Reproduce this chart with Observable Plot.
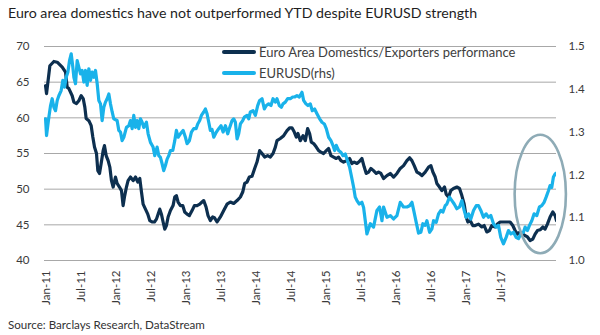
<!DOCTYPE html>
<html><head><meta charset="utf-8">
<script src="https://cdn.jsdelivr.net/npm/d3@7"></script>
<script src="https://cdn.jsdelivr.net/npm/@observablehq/plot@0.6"></script>
<style>
body{margin:0;background:#fff;font-family:Lato,"Open Sans",sans-serif;}
#wrap{position:relative;width:600px;height:335px;overflow:hidden;}
#chart{position:absolute;left:0;top:0;}
#title{position:absolute;left:8px;top:4px;font-size:14.2px;color:#1e1e1e;white-space:nowrap;line-height:18px;}
#source{position:absolute;left:8px;top:318px;font-size:11.6px;color:#333;white-space:nowrap;line-height:14px;}
.leg{position:absolute;left:222px;height:16px;font-size:13px;color:#404040;display:flex;align-items:center;white-space:nowrap;}
.leg .sw{display:inline-block;width:34px;height:3.5px;margin-right:3px;border-radius:2px;}
</style></head>
<body>
<div id="wrap">
  <div id="chart"></div>
  <div id="title">Euro area domestics have not outperformed YTD despite EURUSD strength</div>
  <div class="leg" style="top:44px"><span class="sw" style="background:#0d2f4f"></span>Euro Area Domestics/Exporters performance</div>
  <div class="leg" style="top:65px"><span class="sw" style="background:#19b2ea"></span>EURUSD(rhs)</div>
  <div id="source">Source: Barclays Research, DataStream</div>
</div>
<script>
// x values: months since Jan 2011 (as positioned against the chart's axis labels)
const darkMonths = [-0.17,0,0.57,1.26,1.83,2.69,3.26,3.54,3.83,4.4,
4.69,5.14,5.54,5.94,6.29,6.57,6.8,7.26,7.66,7.94,
8.23,8.57,8.8,9.09,9.37,9.71,9.94,10.23,10.57,10.86,
11.14,11.43,11.83,12.11,12.51,12.86,13.14,13.37,13.71,13.99,
14.4,14.86,15.26,15.66,16,16.29,16.57,16.97,17.37,17.71,
18.11,18.51,18.86,19.14,19.43,19.71,20,20.29,20.57,20.86,
21.26,21.71,22,22.28,22.57,22.97,23.37,23.71,24.11,24.51,
24.97,25.37,25.83,26.29,26.68,26.97,27.37,27.71,28.11,28.51,
28.8,29.26,29.83,30.4,30.97,31.54,32.11,32.69,33.26,33.66,
34,34.4,34.8,35.26,35.71,36.11,36.57,36.97,37.43,37.94,
38.4,38.86,39.26,39.54,40.11,40.69,41.26,41.71,42.11,42.51,
42.86,43.14,43.54,44,44.4,44.8,45.14,45.43,45.83,46.29,
46.69,47.08,47.54,48,48.4,48.8,49.26,49.71,50.11,50.51,
50.97,51.54,52,52.4,52.8,53.26,53.71,54.11,54.51,54.86,
55.26,55.66,56.11,56.57,56.97,57.37,57.83,58.4,58.97,59.55,
60.12,60.69,61.26,61.83,62.29,62.69,63.09,63.55,64,64.4,
64.97,65.55,65.95,66.29,66.69,66.97,67.43,67.83,68.29,68.57,
68.97,69.37,69.83,70.4,70.86,71.26,71.66,72,72.29,72.69,
73.14,73.54,74.12,74.69,75.09,75.54,76,76.4,76.97,77.37,
77.83,78.4,78.97,79.54,80,80.4,80.8,81.26,81.72,82.12,
82.52,82.97,83.43,83.83,84.23,84.69,85.15,85.54,85.94,86.4,
86.86,87.26,87.5];
const darkValues = [64.5,63.4,67.3,67.9,67.8,67.1,66.4,64.3,64.1,63.1,
62.2,62.0,62.4,63.1,62.7,61.5,59.9,59.6,58.9,57.3,
55.9,55.0,52.6,52.2,53.6,55.4,56.1,54.7,54.0,53.1,
51.2,50.3,51.7,50.8,50.3,49.8,47.7,48.9,50.3,51.2,
51.7,51.2,51.7,51.0,51.5,49.6,47.9,47.2,46.5,45.6,
45.4,45.4,45.8,46.5,47.2,46.5,45.4,44.4,44.9,46.1,
47.0,47.7,48.9,49.1,48.2,47.7,47.7,46.8,46.5,46.3,
47.0,47.7,47.7,47.9,48.2,48.4,47.5,46.3,45.6,46.1,
46.0,45.4,46.1,47.0,47.9,48.2,48.0,48.4,48.9,49.6,
50.8,51.0,51.7,51.8,52.9,53.8,55.4,55.0,54.5,54.7,
54.5,55.0,55.9,56.8,57.1,57.5,58.2,58.6,58.6,58.0,
57.3,57.8,56.8,57.5,56.8,58.5,57.8,56.6,56.4,55.9,
55.4,55.2,55.0,55.4,55.7,54.7,54.5,54.3,54.5,54.0,
53.8,54.0,54.3,53.6,53.8,53.6,53.9,54.3,53.1,52.2,
52.4,52.9,52.6,52.2,52.4,52.2,51.5,51.9,52.2,51.7,
52.2,52.9,53.3,54.0,54.4,54.0,53.3,52.4,52.2,51.9,
52.4,53.1,53.3,52.4,51.7,50.8,50.3,49.8,50.3,49.3,
48.9,49.8,50.1,50.3,50.1,49.1,47.9,46.1,45.4,45.6,
44.9,44.9,45.1,44.7,44.9,44.0,44.2,44.9,44.7,45.1,
45.4,45.4,45.4,45.4,44.9,44.2,43.7,44.0,43.7,43.5,
43.3,42.8,43.0,43.7,44.2,44.3,44.7,44.4,45.1,46.1,
46.8,46.3,45.6];

const fxMonths = [-0.17,0,0.4,0.69,0.97,1.26,1.54,1.83,2.11,2.51,
2.8,3.09,3.37,3.66,3.94,4.23,4.51,4.69,4.97,5.26,
5.54,5.83,6.11,6.4,6.69,6.97,7.26,7.54,7.83,8.11,
8.4,8.69,8.97,9.26,9.54,9.83,10.11,10.4,10.69,10.97,
11.26,11.54,12.11,12.4,12.69,12.97,13.26,13.71,14.11,14.4,
14.69,14.97,15.26,15.54,15.83,16.11,16.4,16.69,17.14,17.43,
17.83,18.28,18.57,18.97,19.26,19.54,19.83,20.11,20.4,20.69,
20.97,21.26,21.66,22,22.28,22.57,22.97,23.43,23.83,24.11,
24.51,24.86,25.26,25.66,25.94,26.28,26.57,26.97,27.26,27.54,
27.83,28.11,28.4,28.69,29.14,29.54,29.94,30.29,30.69,31.09,
31.43,31.83,32.11,32.4,32.69,32.97,33.26,33.66,33.94,34.4,
34.69,34.97,35.43,35.83,36.23,36.57,36.97,37.37,37.71,38.11,
38.51,38.86,39.26,39.54,39.94,40.29,40.57,40.97,41.37,41.83,
42.23,42.57,42.97,43.37,43.83,44.11,44.51,44.86,45.26,45.6,
46,46.4,46.86,47.26,47.66,48,48.4,48.8,49.14,49.43,
49.71,50.11,50.51,50.86,51.26,51.54,52,52.4,52.69,52.97,
53.26,53.66,54.11,54.4,54.69,54.97,55.55,56.11,56.69,57.14,
57.55,57.83,58.41,59,59.54,60.12,60.69,61.25,61.84,62.29,
62.7,63,63.43,63.83,64.23,64.57,64.97,65.26,65.72,66.12,
66.4,66.86,67.26,67.66,68,68.4,68.69,69.14,69.55,69.95,
70.4,70.86,71.26,71.66,72,72.4,72.8,73.26,73.72,74.12,
74.52,74.97,75.43,75.83,76.23,76.69,77.14,77.54,77.94,78.4,
78.86,79.26,79.66,80.12,80.57,80.97,81.37,81.83,82.12,82.52,
82.86,83.26,83.66,84.12,84.57,84.97,85.37,85.72,86.12,86.4,
86.69,86.97,87.26,87.43];
const fxValues = [1.331,1.292,1.335,1.362,1.378,1.358,1.350,1.374,1.385,1.397,
1.421,1.405,1.428,1.440,1.467,1.483,1.452,1.428,1.413,1.467,
1.452,1.436,1.444,1.417,1.444,1.409,1.448,1.421,1.440,1.428,
1.444,1.413,1.374,1.366,1.327,1.358,1.370,1.378,1.389,1.366,
1.347,1.331,1.327,1.304,1.300,1.280,1.288,1.311,1.315,1.327,
1.308,1.339,1.311,1.327,1.308,1.331,1.323,1.311,1.323,1.296,
1.276,1.265,1.245,1.265,1.245,1.241,1.226,1.210,1.222,1.237,
1.245,1.257,1.257,1.280,1.304,1.288,1.296,1.304,1.288,1.273,
1.280,1.300,1.308,1.308,1.319,1.327,1.339,1.347,1.354,1.343,
1.323,1.304,1.306,1.288,1.300,1.308,1.315,1.300,1.315,1.296,
1.311,1.327,1.331,1.323,1.284,1.296,1.319,1.327,1.335,1.339,
1.331,1.347,1.350,1.339,1.362,1.374,1.378,1.354,1.362,1.366,
1.362,1.378,1.370,1.378,1.362,1.358,1.366,1.370,1.378,1.378,
1.382,1.382,1.385,1.382,1.393,1.374,1.366,1.362,1.366,1.350,
1.354,1.343,1.331,1.323,1.319,1.308,1.288,1.280,1.269,1.257,
1.269,1.257,1.253,1.245,1.249,1.237,1.218,1.191,1.171,1.148,
1.140,1.132,1.136,1.124,1.093,1.062,1.086,1.078,1.117,1.125,
1.093,1.125,1.101,1.105,1.097,1.105,1.136,1.125,1.125,1.128,
1.136,1.117,1.089,1.064,1.066,1.086,1.082,1.093,1.066,1.074,
1.093,1.089,1.109,1.117,1.113,1.128,1.132,1.148,1.140,1.132,
1.121,1.125,1.140,1.117,1.101,1.109,1.097,1.117,1.128,1.128,
1.117,1.101,1.109,1.101,1.105,1.086,1.078,1.082,1.054,1.039,
1.054,1.070,1.062,1.066,1.054,1.051,1.062,1.066,1.078,1.070,
1.082,1.093,1.109,1.105,1.125,1.128,1.136,1.148,1.163,1.175,
1.171,1.195,1.202,1.204];

const xTickMonths = [0,6,12,18,24,30,36,42,48,54,60,66,72,78];
const xTickLabels = ["Jan-11","Jul-11","Jan-12","Jul-12","Jan-13","Jul-13","Jan-14","Jul-14","Jan-15","Jul-15","Jan-16","Jul-16","Jan-17","Jul-17"];
const leftTicks = [40,45,50,55,60,65,70];
const rightTicks = [1.0,1.1,1.2,1.3,1.4,1.5];
// highlighted region (annotation ellipse): centre and half-extents in data units
const highlight = {month: 84.8, value: 49.25, halfMonths: 4.4, halfValue: 8.3};

const darkColor = "#0d2f4f", fxColor = "#19b2ea";
// secondary (right) axis: 1.0..1.5 maps onto 40..70
const toLeft = e => 40 + (e - 1) * 60;

const dark = darkMonths.map((m, i) => ({m, v: darkValues[i]}));
const fx = fxMonths.map((m, i) => ({m, e: fxValues[i]}));

const plot = Plot.plot({
  width: 600, height: 335,
  marginLeft: 44, marginRight: 44, marginTop: 46, marginBottom: 75,
  style: {fontFamily: "Lato, 'Open Sans', sans-serif", fontSize: "11px", color: "#3a3a3a", background: "transparent", overflow: "visible"},
  x: {type: "linear", domain: [-0.35, 87.5]},
  y: {domain: [40, 70]},
  marks: [
    Plot.gridY(leftTicks, {stroke: "#a8a8a8", strokeOpacity: 1, strokeWidth: 1}),
    Plot.axisY(leftTicks, {anchor: "left", tickSize: 0, tickPadding: 15, label: null, fontSize: 11.5}),
    Plot.axisY(rightTicks.map(toLeft), {anchor: "right", tickSize: 0, tickPadding: 12, label: null, fontSize: 11.5,
      tickFormat: d => ((d - 40) / 60 + 1).toFixed(1)}),
    Plot.axisX(xTickMonths, {anchor: "bottom", tickSize: 0, tickPadding: 10, tickRotate: -90, label: null, fontSize: 11.5,
      tickFormat: d => xTickLabels[xTickMonths.indexOf(d)]}),
    Plot.line(dark, {x: "m", y: "v", stroke: darkColor, strokeWidth: 3.2, strokeLinejoin: "round", strokeLinecap: "round", clip: true}),
    Plot.line(fx, {x: "m", y: d => toLeft(d.e), stroke: fxColor, strokeWidth: 3.2, strokeLinejoin: "round", strokeLinecap: "round", clip: true})
  ]
});
document.getElementById("chart").appendChild(plot);

// annotation ellipse positioned through the plot's own scales
const sx = plot.scale("x"), sy = plot.scale("y");
const cx = sx.apply(highlight.month), cy = sy.apply(highlight.value);
const rx = sx.apply(highlight.month + highlight.halfMonths) - cx;
const ry = cy - sy.apply(highlight.value + highlight.halfValue);
d3.select(plot).append("ellipse")
  .attr("cx", cx).attr("cy", cy).attr("rx", rx).attr("ry", ry)
  .attr("fill", "none").attr("stroke", "#8eabb6").attr("stroke-width", 2.6);
</script>
</body></html>
